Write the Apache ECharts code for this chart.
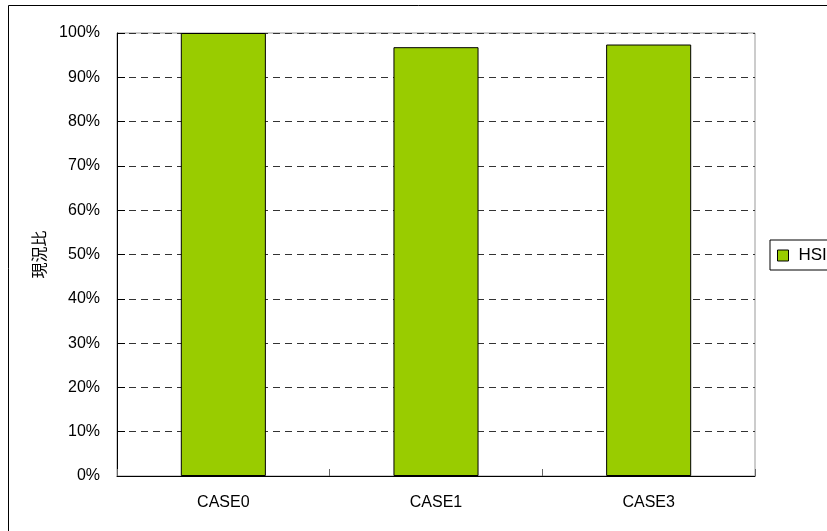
<!DOCTYPE html>
<html>
<head>
<meta charset="utf-8">
<script src="https://cdn.jsdelivr.net/npm/echarts@6/dist/echarts.min.js"></script>
<style>
  html, body { margin: 0; padding: 0; background: #fff; }
  #chart { width: 827px; height: 531px; }
</style>
</head>
<body>
<div id="chart"></div>
<script>
// Ratio to current state, per case
const categories = ['CASE0', 'CASE1', 'CASE3'];
const hsiValues = [100.0, 96.8, 97.4];
const seriesName = 'HSI';
const yAxisTitle = '現況比';

const latin = '"Liberation Sans", Arial, sans-serif';
const cjk = '"Noto Sans CJK JP", sans-serif';

const chart = echarts.init(document.getElementById('chart'), null, { renderer: 'canvas' });

chart.setOption({
  backgroundColor: '#ffffff',
  animation: false,
  graphic: [{
    type: 'rect',
    shape: { x: 8.5, y: 5.5, width: 900, height: 600 },
    style: { fill: 'none', stroke: '#000', lineWidth: 1 },
    z: -1
  }],
  grid: {
    left: 117, right: 72, top: 33, bottom: 55,
    show: true, borderColor: '#999', borderWidth: 1, backgroundColor: 'transparent'
  },
  legend: {
    data: [seriesName],
    left: 770, top: 240,
    orient: 'vertical',
    padding: [7, 20, 6, 7],
    itemWidth: 11, itemHeight: 11, itemGap: 4,
    borderColor: '#000', borderWidth: 1, borderRadius: 0,
    icon: 'rect',
    itemStyle: { borderColor: '#000', borderWidth: 1 },
    textStyle: { fontFamily: latin, fontSize: 17, color: '#000', padding: [0, 0, 0, 5] }
  },
  xAxis: {
    type: 'category',
    data: categories,
    axisLine: { lineStyle: { color: '#000', width: 1 } },
    axisTick: { show: true, inside: true, length: 7, alignWithLabel: false, lineStyle: { color: '#666' } },
    axisLabel: { fontFamily: latin, fontSize: 16, color: '#000', margin: 19 },
    splitLine: { show: false }
  },
  yAxis: {
    type: 'value',
    min: 0, max: 100, interval: 10,
    name: yAxisTitle,
    nameLocation: 'middle',
    nameGap: 70,
    nameRotate: 90,
    nameTextStyle: { fontFamily: cjk, fontSize: 16, color: '#000' },
    axisLine: { show: true, lineStyle: { color: '#000', width: 1 } },
    axisTick: { show: true, inside: true, length: 8, lineStyle: { color: '#000' } },
    axisLabel: { fontFamily: latin, fontSize: 16, color: '#000', margin: 17, padding: [3, 0, 0, 0], formatter: '{value}%' },
    splitLine: { show: true, lineStyle: { color: '#333', type: [7, 5], width: 1 } }
  },
  series: [{
    name: seriesName,
    type: 'bar',
    data: hsiValues,
    barWidth: '40%',
    itemStyle: { color: '#99CC00', borderColor: '#000', borderWidth: 1 }
  }]
});
</script>
</body>
</html>
